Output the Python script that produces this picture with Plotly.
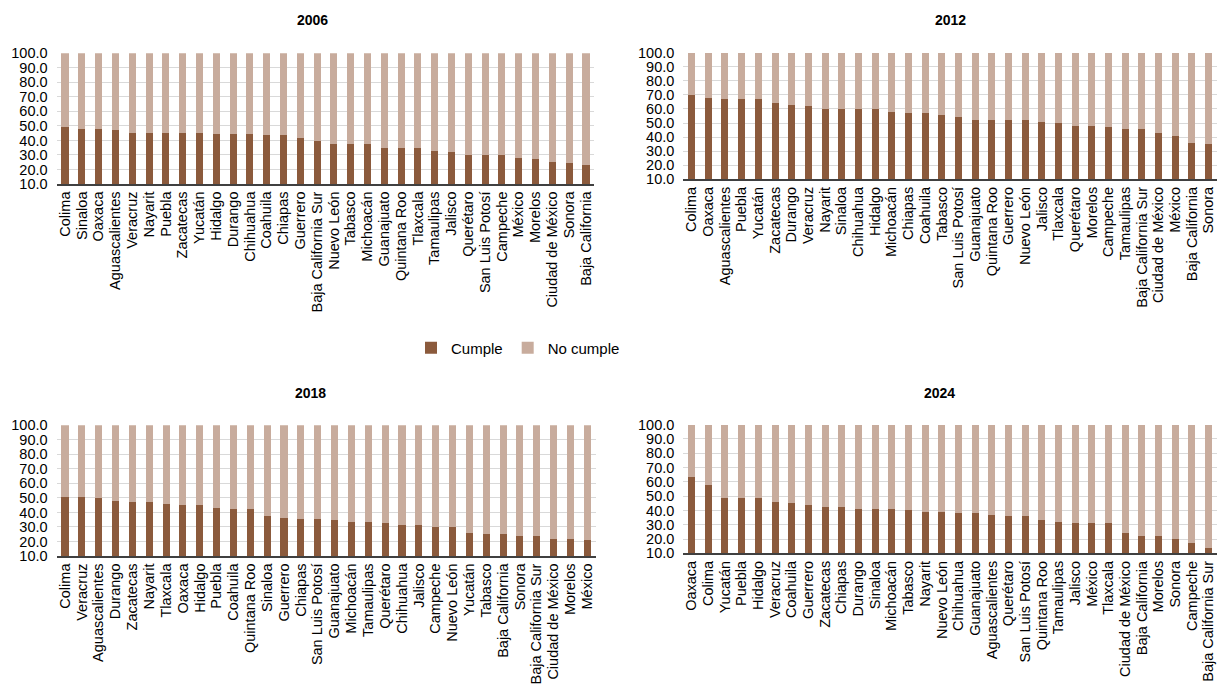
import plotly.graph_objects as go

# ---- data ----
states_2006 = ["Colima", "Sinaloa", "Oaxaca", "Aguascalientes", "Veracruz", "Nayarit", "Puebla",
               "Zacatecas", "Yucatán", "Hidalgo", "Durango", "Chihuahua", "Coahuila", "Chiapas",
               "Guerrero", "Baja California Sur", "Nuevo León", "Tabasco", "Michoacán", "Guanajuato",
               "Quintana Roo", "Tlaxcala", "Tamaulipas", "Jalisco", "Querétaro", "San Luis Potosí",
               "Campeche", "México", "Morelos", "Ciudad de México", "Sonora", "Baja California"]
cumple_2006 = [49.0, 48.1, 48.1, 47.2, 45.4, 45.4, 45.4, 45.4, 45.4, 44.4, 44.4, 44.4, 43.5, 43.5,
               41.7, 39.4, 37.6, 37.6, 37.6, 34.8, 34.8, 34.8, 32.7, 31.8, 30.0, 30.0, 30.0, 27.9,
               27.0, 25.2, 24.3, 23.1]

states_2012 = ["Colima", "Oaxaca", "Aguascalientes", "Puebla", "Yucatán", "Zacatecas", "Durango",
               "Veracruz", "Nayarit", "Sinaloa", "Chihuahua", "Hidalgo", "Michoacán", "Chiapas",
               "Coahuila", "Tabasco", "San Luis Potosí", "Guanajuato", "Quintana Roo", "Guerrero",
               "Nuevo León", "Jalisco", "Tlaxcala", "Querétaro", "Morelos", "Campeche", "Tamaulipas",
               "Baja California Sur", "Ciudad de México", "México", "Baja California", "Sonora"]
cumple_2012 = [70.2, 68.0, 67.1, 67.1, 67.1, 64.0, 63.1, 62.1, 60.0, 60.0, 60.0, 60.0, 58.1, 56.9,
               57.0, 55.9, 54.0, 52.2, 52.2, 52.2, 52.2, 51.0, 50.0, 48.1, 48.1, 46.9, 46.0, 46.0,
               43.2, 41.0, 36.1, 35.1]

states_2018 = ["Colima", "Veracruz", "Aguascalientes", "Durango", "Zacatecas", "Nayarit", "Tlaxcala",
               "Oaxaca", "Hidalgo", "Puebla", "Coahuila", "Quintana Roo", "Sinaloa", "Guerrero",
               "Chiapas", "San Luis Potosí", "Guanajuato", "Michoacán", "Tamaulipas", "Querétaro",
               "Chihuahua", "Jalisco", "Campeche", "Nuevo León", "Yucatán", "Tabasco",
               "Baja California", "Sonora", "Baja California Sur", "Ciudad de México", "Morelos",
               "México"]
cumple_2018 = [50.9, 50.9, 50.0, 48.1, 47.2, 47.2, 46.1, 45.1, 45.1, 43.3, 42.4, 42.4, 37.3, 36.4,
               35.5, 35.5, 34.6, 33.7, 33.7, 32.5, 31.6, 31.6, 29.8, 29.8, 25.9, 24.9, 24.9, 23.8,
               23.8, 22.0, 22.0, 21.0]

states_2024 = ["Oaxaca", "Colima", "Yucatán", "Puebla", "Hidalgo", "Veracruz", "Coahuila", "Guerrero",
               "Zacatecas", "Chiapas", "Durango", "Sinaloa", "Michoacán", "Tabasco", "Nayarit",
               "Nuevo León", "Chihuahua", "Guanajuato", "Aguascalientes", "Querétaro",
               "San Luis Potosí", "Quintana Roo", "Tamaulipas", "Jalisco", "México", "Tlaxcala",
               "Ciudad de México", "Baja California", "Morelos", "Sonora", "Campeche",
               "Baja California Sur"]
cumple_2024 = [63.6, 57.6, 48.9, 48.9, 48.9, 45.9, 45.0, 44.0, 42.2, 42.2, 41.0, 41.0, 41.0, 40.1,
               39.1, 39.1, 38.0, 38.0, 37.0, 36.1, 36.1, 33.1, 32.2, 31.0, 31.0, 31.0, 24.3, 22.2,
               22.2, 20.3, 17.3, 13.6]

years = ["2006", "2012", "2018", "2024"]
y_ticks = [10, 20, 30, 40, 50, 60, 70, 80, 90, 100]

# ---- styling ----
C_DARK = "#8B5A3C"
C_LIGHT = "#C8AC9D"
FONT = "Liberation Sans, Arial, sans-serif"
OFF = 8  # default page margin of the html body
W, H = 1225 - 2 * OFF, 698 - 2 * OFF

panels = [
    (states_2006, cumple_2006),
    (states_2012, cumple_2012),
    (states_2018, cumple_2018),
    (states_2024, cumple_2024),
]
# pixel boxes in screen coordinates: (x0, x1, y_top, y_bottom)
boxes = [
    (56.6, 594.4, 53.3, 184.0),
    (683.3, 1221.1, 52.7, 179.3),
    (56.6, 595.7, 425.3, 556.0),
    (683.3, 1222.0, 424.7, 553.3),
]
title_pos = [(312, 20), (950, 20), (310, 393), (940, 393)]


def px(x):
    return (x - OFF) / W


def py(y):
    return 1 - (y - OFF) / H


fig = go.Figure()
for i, ((states, cumple), box) in enumerate(zip(panels, boxes)):
    n = i + 1
    xa = "x" if n == 1 else f"x{n}"
    ya = "y" if n == 1 else f"y{n}"
    no_cumple = [round(100 - v, 1) for v in cumple]
    fig.add_trace(go.Bar(x=states, y=cumple, name="Cumple", marker_color=C_DARK,
                         xaxis=xa, yaxis=ya, showlegend=(n == 1), legendgroup="c"))
    fig.add_trace(go.Bar(x=states, y=no_cumple, name="No cumple", marker_color=C_LIGHT,
                         xaxis=xa, yaxis=ya, showlegend=(n == 1), legendgroup="n"))
    x0, x1, yt, yb = box
    xkey = "xaxis" if n == 1 else f"xaxis{n}"
    ykey = "yaxis" if n == 1 else f"yaxis{n}"
    fig.layout[xkey] = dict(
        domain=[px(x0), min(px(x1), 1.0)], anchor=ya, type="category", automargin=False,
        tickmode="array", tickvals=states, ticktext=states,
        showline=True, linecolor="#404040", linewidth=1.5, ticks="",
        tickangle=-90, tickfont=dict(family=FONT, size=14.5, color="#000000"),
        showgrid=False, fixedrange=True,
    )
    fig.layout[ykey] = dict(
        domain=[py(yb), py(yt)], anchor=xa, automargin=False,
        range=[10, 100], tickmode="array", tickvals=y_ticks,
        ticktext=[f"{v:.1f}" for v in y_ticks],
        showgrid=True, gridcolor="#D9D9D9", gridwidth=1, zeroline=False,
        showline=False, ticks="", ticklabelstandoff=8,
        tickfont=dict(family=FONT, size=14.5, color="#000000"), fixedrange=True,
    )
    tx, ty = title_pos[i]
    fig.add_annotation(text=f"<b>{years[i]}</b>", x=px(tx), y=py(ty), xref="paper", yref="paper",
                       showarrow=False, xanchor="center", yanchor="middle",
                       font=dict(family=FONT, size=14, color="#000000"))

fig.update_layout(
    template="none",
    width=W, height=H, barmode="stack", bargap=0.58,
    paper_bgcolor="white", plot_bgcolor="white",
    margin=dict(l=0, r=0, t=0, b=0, autoexpand=False),
    font=dict(family=FONT, size=15, color="#000000"),
    legend=dict(orientation="h", x=px(518), y=py(348), xanchor="center", yanchor="middle",
                font=dict(family=FONT, size=15, color="#000000"),
                traceorder="normal", bgcolor="rgba(0,0,0,0)", itemwidth=30),
)

fig.write_html("out.html")
